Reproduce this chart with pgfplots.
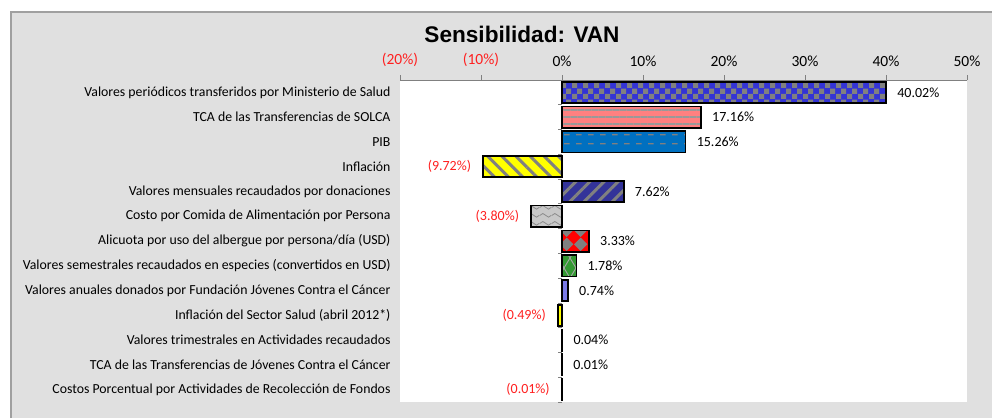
\documentclass[border=0pt]{standalone}
\usepackage{fontspec}
\setmainfont{Carlito}
\newfontfamily\titlefont{Liberation Sans}
\usepackage{pgfplots}
\pgfplotsset{compat=1.18}
\usetikzlibrary{patterns,patterns.meta}

\definecolor{framebg}{HTML}{E0E0E0}
\definecolor{frameline}{HTML}{A0A0A0}
\definecolor{chkblue}{HTML}{3333D6}
\definecolor{salmon}{HTML}{FF8080}
\definecolor{pibblue}{HTML}{0070C0}
\definecolor{yel}{HTML}{FFFF00}
\definecolor{dblue}{HTML}{333399}
\definecolor{lgray}{HTML}{C8C8C8}
\definecolor{rred}{HTML}{FF0000}
\definecolor{ggreen}{HTML}{339933}
\definecolor{purp}{HTML}{7A7AE6}
\definecolor{patgray}{HTML}{808080}
\definecolor{negred}{HTML}{FF2020}

\tikzdeclarepattern{
  name=chk, type=uncolored,
  bounding box={(0pt,0pt) and (11pt,11pt)},
  tile size={(11pt,11pt)},
  code={
    \fill (0pt,0pt) rectangle (5.5pt,5.5pt);
    \fill (5.5pt,5.5pt) rectangle (11pt,11pt);
  }
}
\tikzdeclarepattern{
  name=dashes, type=uncolored,
  bounding box={(0pt,0pt) and (12pt,9pt)},
  tile size={(12pt,9pt)},
  code={
    \fill (0pt,3.8pt) rectangle (6pt,5.2pt);
  }
}
\tikzdeclarepattern{
  name=waves, type=uncolored,
  bounding box={(0pt,0pt) and (12pt,8pt)},
  tile size={(12pt,8pt)},
  code={
    \draw[line width=0.9pt] (0pt,4pt) sin (3pt,6pt) cos (6pt,4pt) sin (9pt,2pt) cos (12pt,4pt);
  }
}
\tikzdeclarepattern{
  name=diam, type=uncolored,
  bounding box={(0pt,0pt) and (14pt,14pt)},
  tile size={(14pt,14pt)},
  code={
    \fill (7pt,0pt) -- (14pt,7pt) -- (7pt,14pt) -- (0pt,7pt) -- cycle;
  }
}
\tikzdeclarepattern{
  name=odiam, type=uncolored,
  bounding box={(-1pt,-1pt) and (13pt,21pt)},
  tile size={(12pt,20pt)},
  code={
    \draw[line width=0.9pt] (0pt,10pt) -- (6pt,0pt) -- (12pt,10pt) -- (6pt,20pt) -- cycle;
  }
}

\newcommand\poslabel{\pgfmathprintnumber[fixed,fixed zerofill,precision=2]{\pgfplotspointmeta}\%}
\newcommand\neglabel{(\pgfmathprintnumber[fixed,fixed zerofill,precision=2]{\pgfplotspointmeta}\%)}

\begin{document}
\begin{tikzpicture}[x=1pt,y=1pt]
\useasboundingbox (0,0) rectangle (992,418);
\fill[framebg] (11,0) rectangle (992,406);
\draw[frameline, line width=1.3pt] (11,0) -- (11,406) -- (992,406);
\node[font=\titlefont\bfseries\fontsize{22.6}{26}\selectfont, anchor=base] at (522,375) {Sensibilidad: VAN};

\begin{axis}[
  at={(400pt,16pt)}, anchor=south west,
  scale only axis, width=567pt, height=322pt,
  xbar, bar shift=0pt, bar width=0.86,
  xmin=-20, xmax=50, ymin=-0.5, ymax=12.5, y dir=reverse,
  axis line style={draw=none},
  axis background/.style={fill=white},
  xtick={-20,-10,0,10,20,30,40,50},
  xticklabels={\textcolor{negred}{(20\%)},\textcolor{negred}{(10\%)},0\%,10\%,20\%,30\%,40\%,50\%},
  xticklabel pos=right, xtick pos=right,
  tick align=outside,
  major tick length=5pt,
  x tick style={patgray, line width=0.8pt},
  xticklabel style={font=\fontsize{15.5}{17}\selectfont, yshift=5pt},
  ytick={0,1,2,3,4,5,6,7,8,9,10,11,12},
  yticklabels={
    Valores periódicos transferidos por Ministerio de Salud,
    TCA de las Transferencias de SOLCA,
    PIB,
    Inflación,
    Valores mensuales recaudados por donaciones,
    Costo por Comida de Alimentación por Persona,
    Alicuota por uso del albergue por persona/día (USD),
    Valores semestrales recaudados en especies (convertidos en USD),
    Valores anuales donados por Fundación Jóvenes Contra el Cáncer,
    Inflación del Sector Salud (abril 2012*),
    Valores trimestrales en Actividades recaudados,
    TCA de las Transferencias de Jóvenes Contra el Cáncer,
    Costos Porcentual por Actividades de Recolección de Fondos},
  y tick style={draw=none},
  yticklabel style={font=\fontsize{13.8}{15}\selectfont, anchor=east, xshift=-1pt},
  /pgf/number format/assume math mode=true,
  nodes near coords=\poslabel,
  nodes near coords style={font=\fontsize{14}{16}\selectfont, anchor=west, xshift=7pt, text=black},
  neg/.style={
    point meta=explicit,
    nodes near coords=\neglabel,
    nodes near coords style={anchor=east, xshift=-15pt, text=negred}},
  pos/.style={point meta=x},
  every axis plot/.append style={draw=black, line width=1.7pt},
  clip=false,
]
\addplot[pos, preaction={fill=chkblue}, pattern=chk, pattern color=patgray] coordinates {(40.02,0)};
\addplot[pos, preaction={fill=salmon}, pattern={Lines[distance=7pt, line width=1.3pt]}, pattern color=patgray!80] coordinates {(17.16,1)};
\addplot[pos, preaction={fill=pibblue}, pattern=dashes, pattern color=patgray] coordinates {(15.26,2)};
\addplot[neg, preaction={fill=yel}, pattern={Lines[angle=-45, distance=10pt, line width=3pt]}, pattern color=patgray] coordinates {(-9.72,3) [9.72]};
\addplot[pos, preaction={fill=dblue}, pattern={Lines[angle=45, distance=10pt, line width=3pt]}, pattern color=patgray] coordinates {(7.62,4)};
\addplot[neg, preaction={fill=lgray}, pattern=waves, pattern color=patgray!90] coordinates {(-3.80,5) [3.80]};
\addplot[pos, preaction={fill=rred}, pattern=diam, pattern color=patgray] coordinates {(3.33,6)};
\addplot[pos, preaction={fill=ggreen}, pattern=odiam, pattern color=patgray!70] coordinates {(1.78,7)};
\addplot[pos, fill=purp] coordinates {(0.74,8)};
\addplot[neg, fill=yel] coordinates {(-0.49,9) [0.49]};
\addplot[pos, fill=white] coordinates {(0.04,10)};
\addplot[pos, fill=white] coordinates {(0.01,11)};
\addplot[neg, fill=black] coordinates {(-0.01,12) [0.01]};
\draw[patgray, line width=0.8pt] (rel axis cs:0,1) -- (rel axis cs:1,1);
\pgfplotsinvokeforeach{-0.5,0.5,1.5,2.5,3.5,4.5,5.5,6.5,7.5,8.5,9.5,10.5,11.5,12.5}{
  \draw[patgray, line width=0.8pt] (axis cs:0,#1) -- ([xshift=-4pt]axis cs:0,#1);
}
\end{axis}
\end{tikzpicture}
\end{document}
